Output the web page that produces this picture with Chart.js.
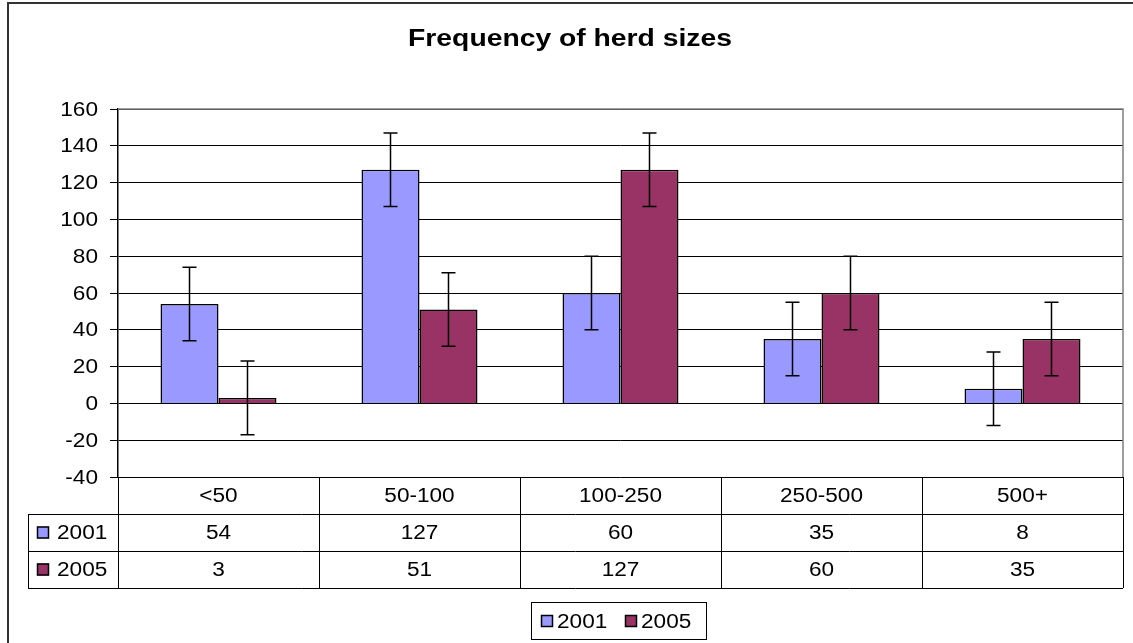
<!DOCTYPE html>
<html>
<head>
    <script src="https://cdn.jsdelivr.net/npm/chart.js"></script>
    <title>Frequency of herd sizes</title>
    <style>
        body { margin: 0; background: #fff; }
        #wrap { width: 1133px; height: 643px; }
    </style>
</head>
<body>
    <div id="wrap"><canvas id="herdChart" width="1133" height="643"></canvas></div>

    <script>
        const categories = ['<50', '50-100', '100-250', '250-500', '500+'];
        const seriesNames = ['2001', '2005'];
        const values2001 = [54, 127, 60, 35, 8];
        const values2005 = [3, 51, 127, 60, 35];
        const errorSize = 20;
        const yMin = -40;
        const yMax = 160;
        const yStep = 20;
        const titleText = 'Frequency of herd sizes';

        const colors = ['#9999FF', '#993366'];
        const font = '"Liberation Sans", Arial, sans-serif';

        // the old Excel export looks a bit wide, so text is stretched sideways
        function wideText(ctx, text, x, y, align, sx) {
            ctx.save();
            ctx.translate(x, y);
            ctx.scale(sx, 1);
            ctx.textAlign = align;
            ctx.fillText(text, 0, 0);
            ctx.restore();
        }

        // error bars + tick labels + data table + legend, drawn after the bars
        const extras = {
            id: 'extras',
            afterDatasetsDraw(chart) {
                const ctx = chart.ctx;
                const area = chart.chartArea;
                const y = chart.scales.y;
                ctx.save();

                // error bars
                ctx.strokeStyle = '#000';
                ctx.lineWidth = 1.5;
                chart.data.datasets.forEach((ds, i) => {
                    chart.getDatasetMeta(i).data.forEach((bar, j) => {
                        const v = ds.data[j];
                        const top = y.getPixelForValue(v + errorSize);
                        const bot = y.getPixelForValue(v - errorSize);
                        ctx.beginPath();
                        ctx.moveTo(bar.x, top); ctx.lineTo(bar.x, bot);
                        ctx.moveTo(bar.x - 7, top); ctx.lineTo(bar.x + 7, top);
                        ctx.moveTo(bar.x - 7, bot); ctx.lineTo(bar.x + 7, bot);
                        ctx.stroke();
                    });
                });

                // plot border
                ctx.lineWidth = 1.5;
                ctx.strokeStyle = '#808080';
                ctx.beginPath();
                ctx.moveTo(area.left, area.top); ctx.lineTo(area.right, area.top);
                ctx.lineTo(area.right, area.bottom);
                ctx.stroke();

                ctx.fillStyle = '#000';
                ctx.textBaseline = 'middle';

                // y tick labels
                ctx.font = '20px ' + font;
                y.ticks.forEach(t => {
                    wideText(ctx, String(t.value), 98, y.getPixelForValue(t.value) + 1, 'right', 1.13);
                });

                // title
                ctx.font = 'bold 23px ' + font;
                wideText(ctx, titleText, 570, 40, 'center', 1.23);

                // data table
                ctx.lineWidth = 1;
                const rowH = 37;
                const colW = (area.right - area.left) / categories.length;
                const tLeft = 28;
                const rows = [values2001, values2005];
                ctx.strokeStyle = '#000';
                ctx.beginPath();
                for (let r = 1; r <= 3; r++) {
                    const ly = Math.round(area.bottom + rowH * r) + 0.5;
                    ctx.moveTo(tLeft, ly); ctx.lineTo(area.right, ly);
                }
                for (let c = 0; c <= categories.length; c++) {
                    const lx = Math.round(area.left + colW * c) + 0.5;
                    ctx.moveTo(lx, area.bottom); ctx.lineTo(lx, area.bottom + rowH * 3);
                }
                ctx.moveTo(tLeft + 0.5, area.bottom + rowH); ctx.lineTo(tLeft + 0.5, area.bottom + rowH * 3);
                ctx.stroke();

                ctx.font = '20px ' + font;
                categories.forEach((c, j) => {
                    const cx = area.left + colW * (j + 0.5);
                    wideText(ctx, c, cx, area.bottom + rowH * 0.5 + 1, 'center', 1.13);
                    rows.forEach((vals, r) => {
                        wideText(ctx, String(vals[j]), cx, area.bottom + rowH * (r + 1.5) + 1, 'center', 1.13);
                    });
                });
                seriesNames.forEach((name, r) => {
                    const cy = area.bottom + rowH * (r + 1.5);
                    ctx.fillStyle = colors[r];
                    ctx.fillRect(37, cy - 6, 12, 12);
                    ctx.lineWidth = 1.5;
                    ctx.strokeRect(37.5, cy - 5.5, 11, 11);
                    ctx.fillStyle = '#000';
                    wideText(ctx, name, 57, cy + 1, 'left', 1.13);
                });

                // legend
                ctx.lineWidth = 1;
                ctx.strokeRect(531.5, 602.5, 175, 37);
                const lx = [541, 625];
                seriesNames.forEach((name, r) => {
                    ctx.fillStyle = colors[r];
                    ctx.fillRect(lx[r], 615, 12, 12);
                    ctx.lineWidth = 1.5;
                    ctx.strokeRect(lx[r] + 0.5, 615.5, 11, 11);
                    ctx.fillStyle = '#000';
                    wideText(ctx, name, lx[r] + 16, 622, 'left', 1.13);
                });

                // outer frame
                ctx.lineWidth = 2;
                ctx.strokeStyle = '#333';
                ctx.strokeRect(8, 3, 1140, 650);
                ctx.restore();
            }
        };

        new Chart(document.getElementById('herdChart'), {
            type: 'bar',
            data: {
                labels: categories,
                datasets: [
                    { label: seriesNames[0], data: values2001, backgroundColor: colors[0], borderColor: '#000', borderWidth: 1.5 },
                    { label: seriesNames[1], data: values2005, backgroundColor: colors[1], borderColor: '#000', borderWidth: 1.5 }
                ]
            },
            options: {
                responsive: false,
                animation: false,
                categoryPercentage: 0.577,
                barPercentage: 1,
                layout: { padding: { top: 109, bottom: 166, right: 10, left: 0 } },
                plugins: {
                    legend: { display: false },
                    tooltip: { enabled: false },
                    title: { display: false }
                },
                scales: {
                    x: { display: false },
                    y: {
                        min: yMin,
                        max: yMax,
                        afterFit(scale) { scale.width = 118; },
                        ticks: {
                            stepSize: yStep,
                            display: false
                        },
                        grid: { color: '#000', lineWidth: 1, tickLength: 8, drawTicks: true },
                        border: { color: '#000', width: 1.5 }
                    }
                }
            },
            plugins: [extras]
        });
    </script>
</body>
</html>
